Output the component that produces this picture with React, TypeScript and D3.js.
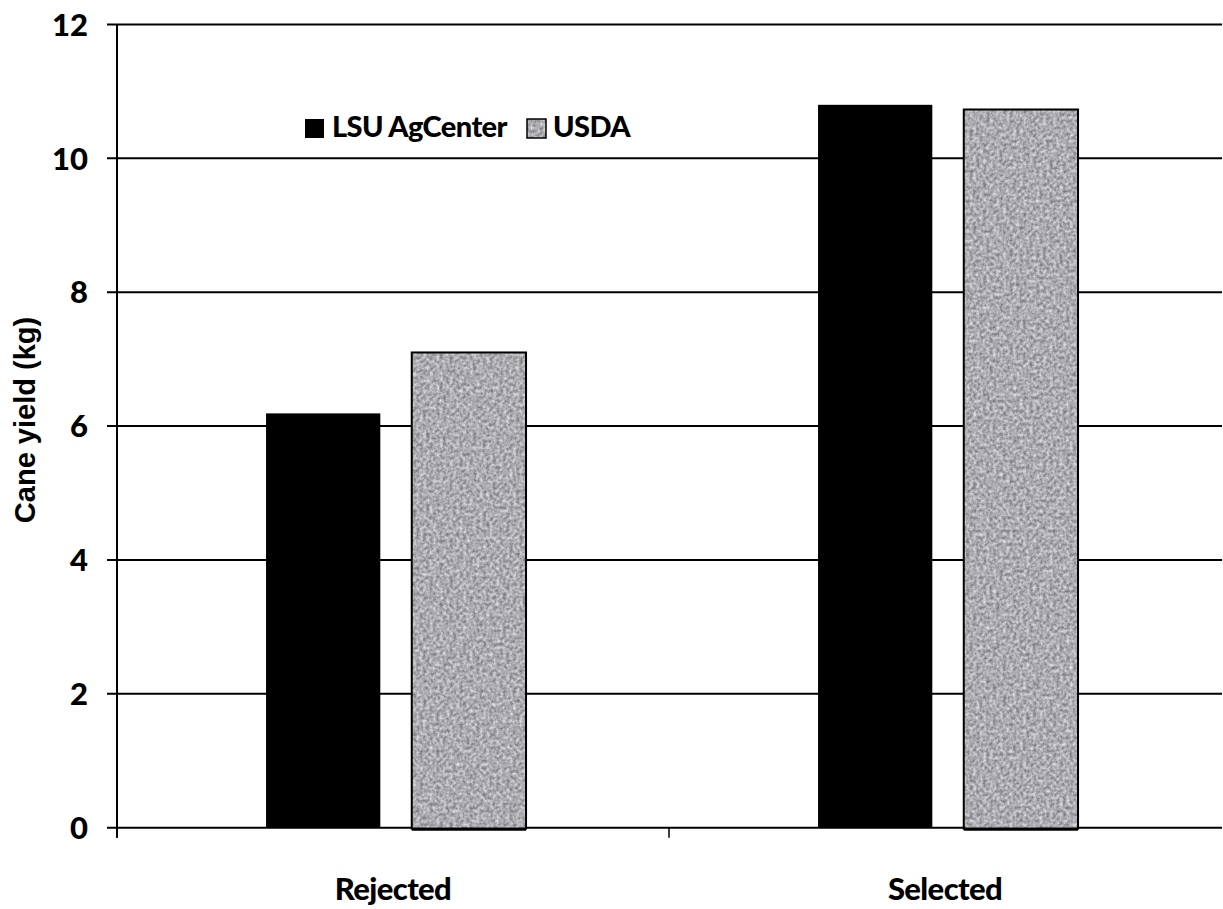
import React from "react";
import * as d3 from "d3";

const categories = ["Rejected", "Selected"];
const seriesNames = ["LSU AgCenter", "USDA"];
const lsuValues = [6.19, 10.8];
const usdaValues = [7.1, 10.73];
const yTicks = [0, 2, 4, 6, 8, 10, 12];

const W = 1223;
const H = 909;
const M = { left: 117, right: 1221, top: 24.5, bottom: 827.7 };
const FONT = "Lato, 'Open Sans', sans-serif";

export default function App() {
  const x = d3.scaleBand<string>().domain(categories).range([M.left, M.right]).padding(0);
  const y = d3.scaleLinear().domain([0, 12]).range([M.bottom, M.top]);
  const bw = x.bandwidth();
  const barW = bw * 0.207;
  const offs = [0.27, 0.534];
  const series = [lsuValues, usdaValues];

  return (
    <svg width={W} height={H} style={{ position: "absolute", left: 0, top: 0, background: "#fff" }}>
      <defs>
        <filter
          id="noise"
          x="0"
          y="0"
          width="1"
          height="1"
          filterUnits="objectBoundingBox"
          colorInterpolationFilters="sRGB"
        >
          <feTurbulence type="fractalNoise" baseFrequency="0.3" numOctaves="2" seed="4" result="t" />
          <feColorMatrix
            in="t"
            type="matrix"
            values="0.6 0 0 0 0.37  0.6 0 0 0 0.37  0.6 0 0 0 0.39  0 0 0 0 1"
            result="g"
          />
          <feGaussianBlur in="g" stdDeviation="0.5" result="b" />
          <feComposite in="b" in2="SourceGraphic" operator="in" />
        </filter>
      </defs>
      <rect x={0} y={0} width={W} height={H} fill="#fff" />
      {/* gridlines */}
      {yTicks.map((t) => (
        <line key={"g" + t} x1={M.left - 10} x2={M.right + 1} y1={y(t)} y2={y(t)} stroke="#000" strokeWidth={2} />
      ))}
      {/* y axis */}
      <line x1={M.left} x2={M.left} y1={M.top} y2={M.bottom + 10} stroke="#000" strokeWidth={2} />
      {/* x ticks */}
      {[M.left, M.left + bw].map((xx, i) => (
        <line key={"xt" + i} x1={xx} x2={xx} y1={M.bottom} y2={M.bottom + 10} stroke="#000" strokeWidth={1.5} />
      ))}
      {/* bars */}
      {categories.map((c, ci) =>
        series.map((vals, si) => {
          const bx = (x(c) as number) + bw * offs[si];
          const by = y(vals[ci]);
          const bh = y(0) - by;
          if (si === 0) {
            return <rect key={c + si} x={bx} y={by} width={barW} height={bh} fill="#000" />;
          }
          return (
            <g key={c + si}>
              <rect x={bx} y={by} width={barW} height={bh + 1} fill="#aaa" filter="url(#noise)" />
              <rect x={bx} y={by} width={barW} height={bh + 1} fill="none" stroke="#000" strokeWidth={2} />
              <line x1={bx} x2={bx + barW} y1={y(0) + 1.5} y2={y(0) + 1.5} stroke="#000" strokeWidth={3} />
            </g>
          );
        })
      )}
      {/* y tick labels */}
      {yTicks.map((t) => (
        <text
          key={"yl" + t}
          x={88}
          y={y(t)}
          dy="0.36em"
          textAnchor="end"
          fontFamily={FONT}
          fontWeight="900"
          fontSize={31}
          fill="#000"
        >
          {t}
        </text>
      ))}
      {/* x labels */}
      {categories.map((c) => (
        <text
          key={"xl" + c}
          x={(x(c) as number) + bw / 2}
          y={900}
          textAnchor="middle"
          fontFamily={FONT}
          fontWeight="900"
          fontSize={31}
          letterSpacing={-0.6}
          fill="#000"
        >
          {c}
        </text>
      ))}
      {/* y title */}
      <text
        transform={`translate(35, 420) rotate(-90)`}
        textAnchor="middle"
        fontFamily="'Liberation Sans', Arial, sans-serif"
        fontWeight="bold"
        fontSize={29}
        fill="#000"
      >
        Cane yield (kg)
      </text>
      {/* legend */}
      <rect x={305} y={119} width={19} height={19} fill="#000" />
      <text x={332} y={137} fontFamily={FONT} fontWeight="900" fontSize={29} fill="#000" letterSpacing={-0.6}>
        {seriesNames[0]}
      </text>
      <rect x={527} y={119} width={19} height={19} fill="#aaa" filter="url(#noise)" />
      <rect x={527} y={119} width={19} height={19} fill="none" stroke="#000" strokeWidth={1.5} />
      <text x={553} y={137} fontFamily={FONT} fontWeight="900" fontSize={29} fill="#000" letterSpacing={-0.6}>
        {seriesNames[1]}
      </text>
    </svg>
  );
}
